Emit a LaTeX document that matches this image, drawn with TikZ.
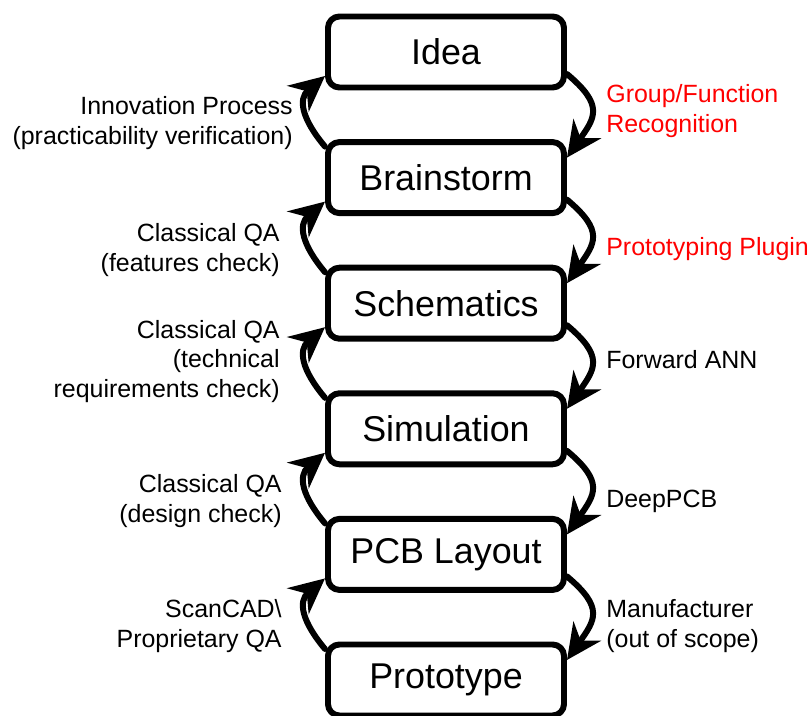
\documentclass[tikz,border=0pt]{standalone}
\usepackage{fontspec}
\setmainfont{Liberation Sans}
\usetikzlibrary{arrows.meta}

\begin{document}
\begin{tikzpicture}[line cap=round,line join=round,>={Stealth[length=20pt,width=19pt,inset=6.5pt]},x=1.0cm,y=1.0cm,
  stage/.style={draw,line width=3.4pt,rounded corners=6.5pt,minimum width=4.72cm,minimum height=1.42cm,
    font=\fontsize{20.4}{24}\selectfont},
  flow/.style={->,line width=3.4pt},
  noteL/.style={anchor=east,inner sep=0pt,align=right,font=\fontsize{14.2}{17}\selectfont},
  noteR/.style={anchor=west,inner sep=0pt,align=left,font=\fontsize{14.2}{17}\selectfont}]
\clip(0.0, 0.0) rectangle (16.24, -14.32);

\node[stage] (idea) at (8.92, -1.04) {Idea};
\node[stage] (brain) at (8.92, -3.552) {Brainstorm};
\node[stage] (schem) at (8.92, -6.064) {Schematics};
\node[stage] (simul) at (8.92, -8.576) {Simulation};
\node[stage] (pcb) at (8.92, -11.088) {PCB Layout};
\node[stage] (proto) at (8.92, -13.60) {Prototype};

% forward steps (right side)
\draw [flow] ([yshift=-0.44cm]idea.east) to[out=-40,in=55,looseness=1.5] ([yshift=0.40cm]brain.east);
\draw [flow] ([yshift=-0.44cm]brain.east) to[out=-40,in=55,looseness=1.5] ([yshift=0.40cm]schem.east);
\draw [flow] ([yshift=-0.44cm]schem.east) to[out=-40,in=55,looseness=1.5] ([yshift=0.40cm]simul.east);
\draw [flow] ([yshift=-0.44cm]simul.east) to[out=-40,in=55,looseness=1.5] ([yshift=0.40cm]pcb.east);
\draw [flow] ([yshift=-0.44cm]pcb.east) to[out=-40,in=55,looseness=1.5] ([yshift=0.40cm]proto.east);

% checks (left side)
\draw [flow] ([yshift=0.62cm]brain.west) to[out=130,in=220,looseness=1.3] ([yshift=-0.48cm]idea.west);
\draw [flow] ([yshift=0.62cm]schem.west) to[out=130,in=220,looseness=1.3] ([yshift=-0.48cm]brain.west);
\draw [flow] ([yshift=0.62cm]simul.west) to[out=130,in=220,looseness=1.3] ([yshift=-0.48cm]schem.west);
\draw [flow] ([yshift=0.62cm]pcb.west) to[out=130,in=220,looseness=1.3] ([yshift=-0.48cm]simul.west);
\draw [flow] ([yshift=0.62cm]proto.west) to[out=130,in=220,looseness=1.3] ([yshift=-0.48cm]pcb.west);

\node[noteL] (innov) at (5.86, -2.46) {Innovation Process\\(practicability verification)};
\node[noteL] (qafeat) at (5.60, -5.00) {Classical QA\\(features check)};
\node[noteL] (qatech) at (5.60, -7.23) {Classical QA\\(technical\\requirements check)};
\node[noteL] (qadesign) at (5.64, -10.02) {Classical QA\\(design check)};
\node[noteL] (scancad) at (5.64, -12.52) {ScanCAD\textbackslash\\Proprietary QA};

\node[noteR,red] (group) at (12.12, -2.22) {Group/Function\\Recognition};
\node[noteR,red] (plugin) at (12.12, -4.98) {Prototyping Plugin};
\node[noteR] (ann) at (12.12, -7.19) {Forward ANN};
\node[noteR] (deep) at (12.12, -10.02) {DeepPCB};
\node[noteR] (manu) at (12.12, -12.52) {Manufacturer\\(out of scope)};

\end{tikzpicture}
\end{document}
